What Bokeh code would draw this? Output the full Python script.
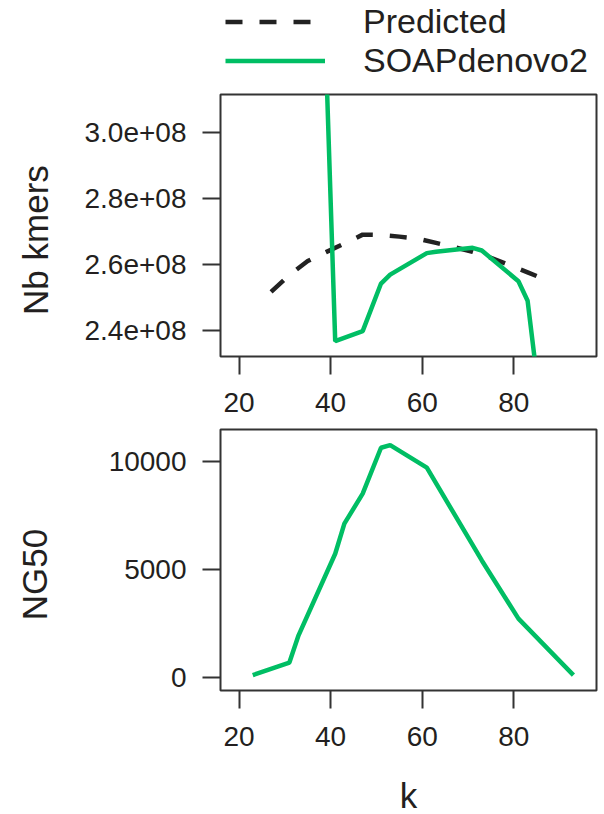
import math
from bokeh.plotting import figure
from bokeh.models import Range1d, FixedTicker, Legend, LegendItem, Label
from bokeh.layouts import column
from bokeh.embed import file_html
from bokeh.resources import INLINE

# ---- data ----
k_pred = [27, 31, 35, 39, 43, 47, 51, 55, 59, 63, 67, 71, 75, 79, 83, 87]
kmers_pred = [2.517e8, 2.568e8, 2.610e8, 2.637e8, 2.663e8, 2.690e8, 2.689e8, 2.684e8,
              2.678e8, 2.665e8, 2.652e8, 2.638e8, 2.620e8, 2.598e8, 2.576e8, 2.553e8]

k_soap = [39, 41, 47, 51, 53, 61, 63, 71, 73, 81, 83, 85]
kmers_soap = [3.22e8, 2.368e8, 2.398e8, 2.542e8, 2.569e8, 2.634e8, 2.638e8, 2.650e8,
              2.642e8, 2.549e8, 2.490e8, 2.262e8]

k_ng50 = [23, 31, 33, 41, 43, 47, 51, 53, 61, 73, 81, 93]
ng50 = [110, 690, 1950, 5720, 7110, 8500, 10620, 10740, 9700, 5410, 2720, 110]

x_ticks = [20, 40, 60, 80]
kmer_ticks = [2.4e8, 2.6e8, 2.8e8, 3.0e8]
kmer_tick_labels = ["2.4e+08", "2.6e+08", "2.8e+08", "3.0e+08"]
ng50_ticks = [0, 5000, 10000]

series_names = ["Predicted", "SOAPdenovo2"]
ylab_top = "Nb kmers"
ylab_bottom = "NG50"
xlab = "k"

# ---- style ----
FONT = "Liberation Sans"
TEXT = "#231f20"
INK = "#333333"
DASH = "#222222"
GREEN = "#00be64"
DASH_PATTERN = "17 17"
LW = 4.5
NBSP = "\u00a0"

X_LIM = (15.96, 98.04)


def bare(p):
    p.grid.visible = False
    p.outline_line_color = None
    p.background_fill_color = "white"
    p.border_fill_color = "white"


def style(p, ylabel, label_standoff):
    p.outline_line_color = INK
    p.outline_line_width = 2
    p.grid.visible = False
    p.background_fill_color = "white"
    p.border_fill_color = "white"
    for ax in p.axis:
        ax.axis_line_color = None
        ax.major_tick_line_color = INK
        ax.major_tick_line_width = 2
        ax.major_tick_out = 18
        ax.major_tick_in = 0
        ax.minor_tick_line_color = None
        ax.major_label_text_font = FONT
        ax.major_label_text_font_size = "28px"
        ax.major_label_text_color = TEXT
    p.xaxis.ticker = FixedTicker(ticks=x_ticks)
    p.xaxis.major_label_standoff = 18
    p.yaxis.major_label_standoff = 16
    # the reference's y titles sit a little below the panel centre
    p.yaxis.axis_label = ylabel + NBSP * 3
    p.yaxis.axis_label_text_font = FONT
    p.yaxis.axis_label_text_font_size = "35px"
    p.yaxis.axis_label_text_font_style = "normal"
    p.yaxis.axis_label_text_color = TEXT
    p.yaxis.axis_label_standoff = label_standoff


# ---- legend strip ----
p0 = figure(width=598, height=92, x_range=Range1d(0, 1), y_range=Range1d(0, 1),
            output_backend="svg", toolbar_location=None,
            x_axis_location=None, y_axis_location=None,
            min_border_left=220, min_border_right=2, min_border_top=0,
            min_border_bottom=0)
bare(p0)
# legend proxies: lie outside this strip's visible range, only their styling is used
lg_pred = p0.line([0, 1], [-5, -5], line_color=DASH, line_width=LW, line_dash=DASH_PATTERN)
lg_soap = p0.line([0, 1], [-5, -5], line_color=GREEN, line_width=LW)
legend = Legend(items=[LegendItem(label=series_names[0], renderers=[lg_pred]),
                       LegendItem(label=series_names[1], renderers=[lg_soap])],
                location=(5, 12), orientation="vertical",
                glyph_width=100, glyph_height=35, label_height=35, spacing=0,
                padding=0, margin=0, label_standoff=38,
                label_text_font=FONT, label_text_font_size="34px",
                label_text_color=TEXT, border_line_color=None,
                background_fill_alpha=0)
p0.add_layout(legend, "center")

# ---- panel 1: Nb kmers ----
p1 = figure(width=598, height=334, x_range=Range1d(*X_LIM),
            y_range=Range1d(2.3213e8, 3.114e8),
            output_backend="svg", toolbar_location=None,
            min_border_left=220, min_border_right=2,
            min_border_top=2, min_border_bottom=70)
style(p1, ylab_top, 27)
p1.yaxis.ticker = FixedTicker(ticks=kmer_ticks)
p1.yaxis.major_label_overrides = {t: l for t, l in zip(kmer_ticks, kmer_tick_labels)}
p1.line(k_pred, kmers_pred, line_color=DASH, line_width=LW, line_dash=DASH_PATTERN)
p1.line(k_soap, kmers_soap, line_color=GREEN, line_width=LW)

# ---- panel 2: NG50 ----
p2 = figure(width=598, height=334, x_range=Range1d(*X_LIM),
            y_range=Range1d(-600, 11463),
            output_backend="svg", toolbar_location=None,
            min_border_left=220, min_border_right=2,
            min_border_top=3, min_border_bottom=70)
style(p2, ylab_bottom, 52)
p2.yaxis.ticker = FixedTicker(ticks=ng50_ticks)
p2.line(k_ng50, ng50, line_color=GREEN, line_width=LW)

# ---- x title strip ----
p3 = figure(width=598, height=54, x_range=Range1d(0, 1), y_range=Range1d(0, 1),
            output_backend="svg", toolbar_location=None,
            x_axis_location=None, y_axis_location=None,
            min_border_left=220, min_border_right=2, min_border_top=0,
            min_border_bottom=0)
bare(p3)
p3.add_layout(Label(x=188, y=18.7, x_units="screen", y_units="screen", text=xlab,
                    text_align="center", text_baseline="alphabetic",
                    text_font=FONT, text_font_size="35px", text_color=TEXT))

layout = column(p0, p1, p2, p3, spacing=0)
open("out.html", "w").write(file_html(layout, INLINE))
